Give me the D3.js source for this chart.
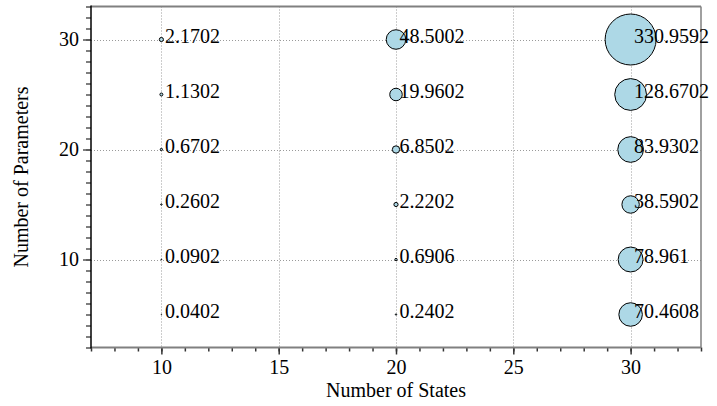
<!DOCTYPE html>
<html>
<head>
<meta charset="utf-8">
<script src="https://cdn.jsdelivr.net/npm/d3@7"></script>
<style>
  html, body { margin: 0; padding: 0; background: #fff; }
  svg { display: block; font-family: "Liberation Serif", "Times New Roman", serif; }
</style>
</head>
<body>
<svg id="chart" width="717" height="406"></svg>
<script>
// Runtime (seconds) by number of states and number of parameters
const states = [10, 20, 30];
const params = [5, 10, 15, 20, 25, 30];
const time10 = [0.0402, 0.0902, 0.2602, 0.6702, 1.1302, 2.1702];
const time20 = [0.2402, 0.6906, 2.2202, 6.8502, 19.9602, 48.5002];
const time30 = [70.4608, 78.961, 38.5902, 83.9302, 128.6702, 330.9592];
const xTicks = [10, 15, 20, 25, 30];
const yTicks = [10, 20, 30];

const seriesByState = [time10, time20, time30];
const points = [];
states.forEach((s, i) => {
  params.forEach((p, j) => points.push({ s, p, v: seriesByState[i][j] }));
});

const svg = d3.select("#chart");
const pLeft = 91, pRight = 701, pTop = 6.5, pBottom = 347.5;
const fontSize = 20;

const x = d3.scaleLinear().domain([7, 33]).range([pLeft, pRight]);
const y = d3.scaleLinear().domain([2, 33]).range([pBottom, pTop]);
const r = d3.scaleSqrt().domain([0, d3.max(points, d => d.v)]).range([0, 25.5]);

// dotted grid
const grid = svg.append("g").attr("stroke", "#9a9a9a").attr("stroke-width", 1)
  .attr("stroke-dasharray", "1,2");
grid.selectAll("line.gx").data(xTicks).join("line")
  .attr("x1", d => Math.round(x(d)) + 0.5).attr("x2", d => Math.round(x(d)) + 0.5)
  .attr("y1", pTop).attr("y2", pBottom);
grid.selectAll("line.gy").data(yTicks).join("line")
  .attr("y1", d => Math.round(y(d)) + 0.5).attr("y2", d => Math.round(y(d)) + 0.5)
  .attr("x1", pLeft).attr("x2", pRight);

// frame: top and right edges
svg.append("line").attr("x1", pLeft).attr("x2", pRight).attr("y1", pTop).attr("y2", pTop)
  .attr("stroke", "#808080").attr("stroke-width", 2);
svg.append("line").attr("x1", pRight).attr("x2", pRight).attr("y1", pTop).attr("y2", pBottom)
  .attr("stroke", "#808080").attr("stroke-width", 1.5);

// x axis
const xMinor = d3.range(7, 34, 1);
const xAxis = svg.append("g").attr("transform", `translate(0,${pBottom})`);
xAxis.call(d3.axisBottom(x).tickValues(xMinor).tickSize(4).tickFormat(""));
xAxis.call(g => g.select(".domain").remove());
xAxis.selectAll(".tick line").attr("stroke", "#333").attr("stroke-width", 1.5);
const xMajor = svg.append("g").attr("transform", `translate(0,${pBottom})`)
  .call(d3.axisBottom(x).tickValues(xTicks).tickSize(7).tickPadding(5).tickFormat(d3.format("d")));
xMajor.select(".domain").remove();
xMajor.selectAll(".tick line").attr("stroke", "#333").attr("stroke-width", 1.5);
xMajor.selectAll(".tick text").attr("font-size", fontSize).attr("font-family", "Liberation Serif")
  .attr("fill", "#000");
svg.append("line").attr("x1", pLeft).attr("x2", pRight).attr("y1", pBottom).attr("y2", pBottom)
  .attr("stroke", "#808080").attr("stroke-width", 2);

// y axis
const yMinor = d3.range(2, 34, 1);
const yAxis = svg.append("g").attr("transform", `translate(${pLeft},0)`);
yAxis.call(d3.axisLeft(y).tickValues(yMinor).tickSize(5).tickFormat(""));
yAxis.call(g => g.select(".domain").remove());
yAxis.selectAll(".tick line").attr("stroke", "#555").attr("stroke-width", 1.5);
const yMajor = svg.append("g").attr("transform", `translate(${pLeft},0)`)
  .call(d3.axisLeft(y).tickValues(yTicks).tickSize(8).tickPadding(4).tickFormat(d3.format("d")));
yMajor.select(".domain").remove();
yMajor.selectAll(".tick line").attr("stroke", "#555").attr("stroke-width", 1.5);
yMajor.selectAll(".tick text").attr("font-size", fontSize).attr("font-family", "Liberation Serif")
  .attr("fill", "#000");
svg.append("line").attr("x1", pLeft).attr("x2", pLeft).attr("y1", pTop - 1).attr("y2", pBottom + 1)
  .attr("stroke", "#000").attr("stroke-width", 1.5);

// bubbles (area proportional to runtime)
svg.append("g").selectAll("circle").data(points).join("circle")
  .attr("cx", d => x(d.s)).attr("cy", d => y(d.p)).attr("r", d => r(d.v))
  .attr("fill", "#add8e6").attr("stroke", "#000").attr("stroke-width", 1);

// value labels
svg.append("g").selectAll("text").data(points).join("text")
  .attr("x", d => x(d.s) + 3.5).attr("y", d => y(d.p) + 3)
  .attr("font-size", fontSize).attr("fill", "#000")
  .text(d => String(d.v));

// axis titles
svg.append("text").attr("x", (pLeft + pRight) / 2).attr("y", 397)
  .attr("text-anchor", "middle").attr("font-size", fontSize).text("Number of States");
svg.append("text").attr("transform", `translate(28,${(pTop + pBottom) / 2}) rotate(-90)`)
  .attr("text-anchor", "middle").attr("font-size", fontSize).text("Number of Parameters");
</script>
</body>
</html>
